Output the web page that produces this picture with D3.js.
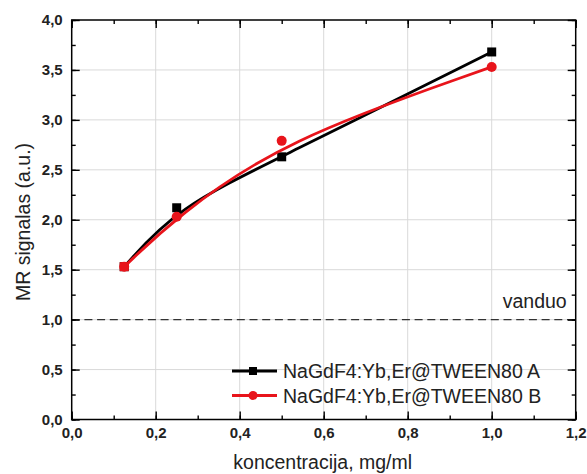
<!DOCTYPE html>
<html><head><meta charset="utf-8">
<script src="https://cdn.jsdelivr.net/npm/d3@7"></script>
<style>body{margin:0;background:#fff}svg{display:block}</style>
</head><body>
<script>
const concentrations = [0.125, 0.25, 0.5, 1.0];
const seriesA = [1.53, 2.12, 2.63, 3.68];
const seriesB = [1.53, 2.03, 2.79, 3.53];
const seriesNames = ["NaGdF4:Yb,Er@TWEEN80 A", "NaGdF4:Yb,Er@TWEEN80 B"];
const waterLevel = 1.0;
const waterLabel = "vanduo";
const xTicks = [0, 0.2, 0.4, 0.6, 0.8, 1.0, 1.2];
const yTicks = [0, 0.5, 1.0, 1.5, 2.0, 2.5, 3.0, 3.5, 4.0];

const W = 587, H = 474;
const m = {l: 71.7, r: 11.3, t: 20, b: 54.5};
const svg = d3.select("body").append("svg").attr("width", W).attr("height", H);
const x = d3.scaleLinear().domain([0, 1.2]).range([m.l, W - m.r]);
const y = d3.scaleLinear().domain([0, 4]).range([H - m.b, m.t]);
const fmt = d => d3.format(".1f")(d).replace(".", ",");
const font = "Arimo, 'Liberation Sans', Arial, sans-serif";

// grid
const g = svg.append("g");
g.selectAll(".gx").data(xTicks.slice(1, -1)).join("line")
  .attr("x1", d => x(d)).attr("x2", d => x(d)).attr("y1", y(0)).attr("y2", y(4))
  .attr("stroke", "#d9d9d9").attr("stroke-width", 1);
g.selectAll(".gy").data(yTicks.slice(1, -1)).join("line")
  .attr("y1", d => y(d)).attr("y2", d => y(d)).attr("x1", x(0)).attr("x2", x(1.2))
  .attr("stroke", "#d9d9d9").attr("stroke-width", 1);

// water line
svg.append("line").attr("x1", x(0)).attr("x2", x(1.2)).attr("y1", y(waterLevel)).attr("y2", y(waterLevel))
  .attr("stroke", "#333").attr("stroke-width", 1.4).attr("stroke-dasharray", "8,4.7");
svg.append("text").attr("x", x(1.2) - 9).attr("y", y(waterLevel) - 12).attr("text-anchor", "end")
  .attr("font-family", font).attr("font-size", 19.5).attr("fill", "#222").text(waterLabel);

// axes with inward ticks
const minorX = d3.range(0, 1.21, 0.1), minorY = d3.range(0, 4.01, 0.25);
function ticks(axisGen, sel, tr, major, minor) {
  const a = svg.append("g").attr("transform", tr);
  a.call(axisGen(sel).tickValues(minor).tickSize(-4).tickFormat(""));
  const b = svg.append("g").attr("transform", tr);
  b.call(axisGen(sel).tickValues(major).tickSize(-8).tickFormat(""));
  [a, b].forEach(s => { s.select(".domain").remove(); s.selectAll("line").attr("stroke", "#000").attr("stroke-width", 1.4); });
}
ticks(d3.axisBottom, x, `translate(0,${y(0)})`, xTicks, minorX);
ticks(d3.axisTop, x, `translate(0,${y(4)})`, xTicks, minorX);
ticks(d3.axisLeft, y, `translate(${x(0)},0)`, yTicks, minorY);
ticks(d3.axisRight, y, `translate(${x(1.2)},0)`, yTicks, minorY);

// tick labels
const xl = svg.append("g").attr("transform", `translate(0,${y(0)})`)
  .call(d3.axisBottom(x).tickValues(xTicks).tickSize(0).tickPadding(8).tickFormat(fmt));
xl.select(".domain").remove();
xl.selectAll("text").attr("font-family", font).attr("font-size", 15).attr("font-weight", "bold").attr("fill", "#222");
const yl = svg.append("g").attr("transform", `translate(${x(0)},0)`)
  .call(d3.axisLeft(y).tickValues(yTicks).tickSize(0).tickPadding(9).tickFormat(fmt));
yl.select(".domain").remove();
yl.selectAll("text").attr("font-family", font).attr("font-size", 15).attr("font-weight", "bold").attr("fill", "#222");

// frame
svg.append("rect").attr("x", x(0)).attr("y", y(4)).attr("width", x(1.2) - x(0)).attr("height", y(0) - y(4))
  .attr("fill", "none").attr("stroke", "#000").attr("stroke-width", 1.5);

// axis titles
svg.append("text").attr("x", (x(0) + x(1.2)) / 2 - 1).attr("y", 469).attr("text-anchor", "middle")
  .attr("font-family", font).attr("font-size", 19.5).attr("fill", "#222").text("koncentracija, mg/ml");
svg.append("text").attr("transform", `translate(30,222) rotate(-90)`).attr("text-anchor", "middle")
  .attr("font-family", font).attr("font-size", 19.5).attr("fill", "#222").text("MR signalas (a.u.)");

// series
const series = [
  {name: seriesNames[0], vals: seriesA, color: "#000", shape: "square"},
  {name: seriesNames[1], vals: seriesB, color: "#e8141b", shape: "circle"}
];
const line = d3.line().x(d => x(d[0])).y(d => y(d[1])).curve(d3.curveBasis);
function marker(sel, s, cx, cy, sz) {
  sz = sz || 9;
  if (s.shape === "square") sel.append("rect").attr("x", cx - sz / 2).attr("y", cy - sz / 2).attr("width", sz).attr("height", sz).attr("fill", s.color);
  else sel.append("circle").attr("cx", cx).attr("cy", cy).attr("r", sz / 2 + 0.5).attr("fill", s.color);
}
series.forEach(s => {
  const pts = concentrations.map((c, i) => [c, s.vals[i]]);
  const gs = svg.append("g");
  gs.append("path").datum(pts).attr("d", line).attr("fill", "none").attr("stroke", s.color).attr("stroke-width", 2.8);
  pts.forEach(p => marker(gs, s, x(p[0]), y(p[1])));
});
// first point of B drawn as a red square on top, as in the reference
marker(svg, {shape: "square", color: "#e8141b"}, x(concentrations[0]), y(seriesB[0]));

// legend
series.forEach((s, i) => {
  const ly = 371 + i * 24.5;
  const lg = svg.append("g");
  lg.append("line").attr("x1", 232).attr("x2", 277).attr("y1", ly).attr("y2", ly).attr("stroke", s.color).attr("stroke-width", 2.8);
  marker(lg, s, 253, ly, 8);
  lg.append("text").attr("x", 283).attr("y", ly + 7).attr("font-family", font).attr("font-size", 19.5).attr("fill", "#222").text(s.name);
});
</script>
</body></html>
